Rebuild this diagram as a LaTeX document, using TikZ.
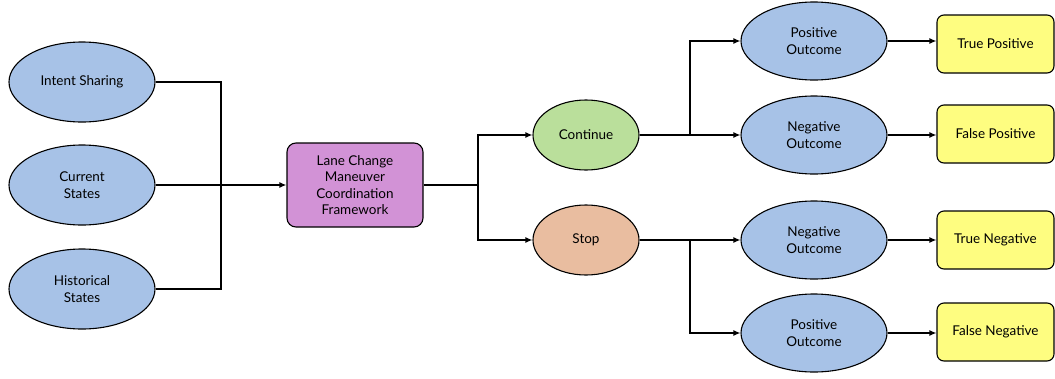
\documentclass[tikz,border=0pt]{standalone}
\usepackage{fontspec}
\setmainfont{Lato}
\usepackage{xcolor}
\usetikzlibrary{shapes.geometric,arrows.meta,positioning}
\definecolor{azulin}{HTML}{A7C2E7}
\definecolor{lila}{HTML}{D292D6}
\definecolor{verde}{HTML}{BADF9B}
\definecolor{salmon}{HTML}{E9BDA0}
\definecolor{amarillo}{HTML}{FEFD80}

\begin{document}
\begin{tikzpicture}[x=1pt,y=-1pt,
  every node/.style={font=\fontsize{13.5}{16.5}\selectfont,align=center},
  oval/.style={ellipse,draw,line width=1.1pt,minimum width=146pt,minimum height=80pt,inner sep=1pt},
  choice/.style={ellipse,draw,line width=1.1pt,minimum width=106pt,minimum height=70pt,inner sep=1pt},
  outbox/.style={rectangle,draw,line width=1.1pt,rounded corners=7pt,fill=amarillo,minimum width=117pt,minimum height=58pt},
  link/.style={line width=1.3pt},
  arrow/.style={link,-{Latex[length=7pt,width=6pt]}}]
  \useasboundingbox (0,0) rectangle (1055,378);

  % inputs
  \foreach \name/\y/\txt in {intent/82/{Intent Sharing},current/185/{Current\\States},hist/289/{Historical\\States}}{
    \node[oval,fill=azulin] (\name) at (82,\y) {\txt};
  }
  \node[rectangle,draw,line width=1.1pt,rounded corners=9pt,fill=lila,minimum width=136pt,minimum height=84pt] (frame) at (355,185) {Lane Change\\Maneuver\\Coordination\\Framework};
  \coordinate (join) at (221,185);
  \draw[link] (intent) -| (join);
  \draw[link] (hist) -| (join);
  \draw[link] (current) -- (join);
  \draw[arrow,line width=1.9pt] (join) -- (frame);

  % decision
  \node[choice,fill=verde] (cont) at (586,135) {Continue};
  \node[choice,fill=salmon] (stop) at (586,240) {Stop};
  \coordinate (split) at (478,185);
  \draw[link] (frame) -- (split);
  \draw[arrow] (split) |- (cont);
  \draw[arrow] (split) |- (stop);

  % outcomes
  \foreach \name/\y/\txt in {o1/41/Positive,o2/135/Negative,o3/240/Negative,o4/333/Positive}{
    \node[oval,minimum height=78pt,fill=azulin] (\name) at (814,\y) {\txt\\Outcome};
  }
  \coordinate (cfork) at (690,135);
  \coordinate (sfork) at (690,240);
  \draw[link] (cont) -- (cfork);
  \draw[arrow] (cfork) |- (o1);
  \draw[arrow] (cfork) -- (o2);
  \draw[link] (stop) -- (sfork);
  \draw[arrow] (sfork) -- (o3);
  \draw[arrow] (sfork) |- (o4);

  % results
  \foreach \name/\src/\y/\txt in {r1/o1/44/True Positive,r2/o2/134/False Positive,r3/o3/240/True Negative,r4/o4/332/False Negative}{
    \node[outbox] (\name) at (995.5,\y) {\txt};
    \draw[arrow] (\src) -- (\src -| \name.west);
  }
\end{tikzpicture}
\end{document}
